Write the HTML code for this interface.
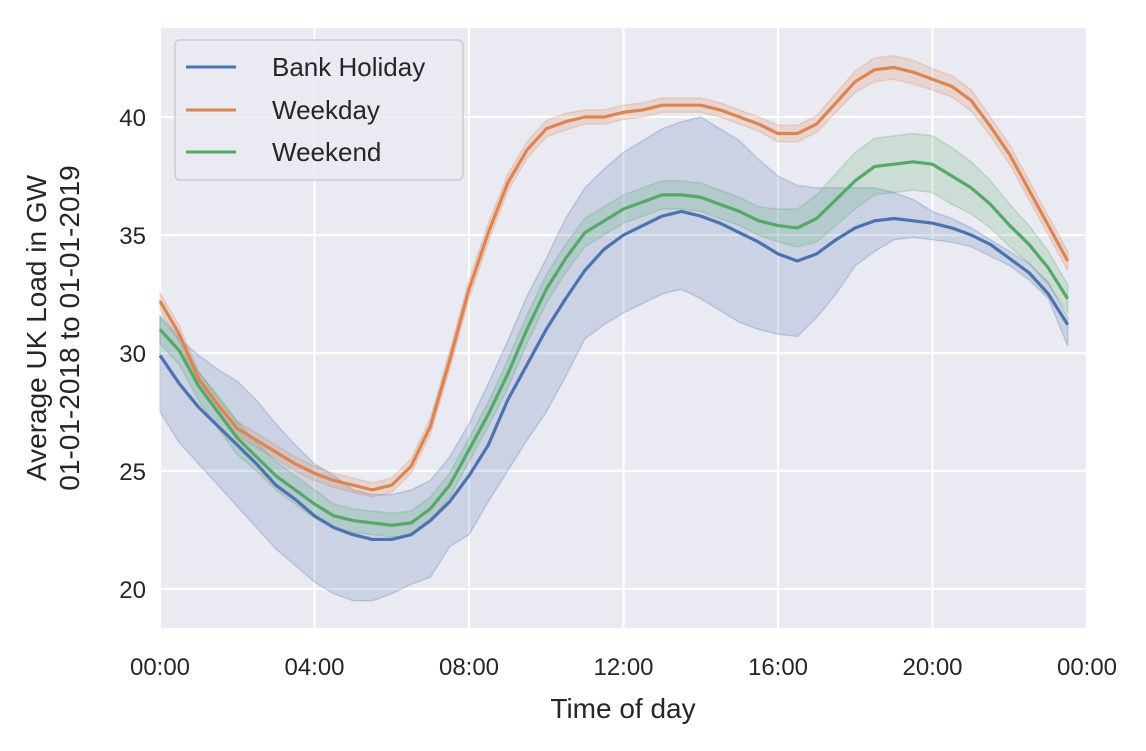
<!DOCTYPE html>
<html><head><meta charset="utf-8"><style>
body{margin:0;background:#fff;}
svg text{font-family:"Liberation Sans","DejaVu Sans",sans-serif;fill:#262626;}
</style></head><body>
<svg width="1146" height="746" xmlns="http://www.w3.org/2000/svg" id="chart">
<rect x="160" y="28" width="927" height="600" fill="#eaeaf2"/>
<g id="grid"></g>
<g id="bands"></g>
<g id="lines"></g>
<g id="ticks"></g>
<text x="623" y="718" font-size="28" text-anchor="middle">Time of day</text>
<g transform="translate(46,328) rotate(-90)">
<text x="0" y="0" font-size="28" text-anchor="middle">Average UK Load in GW</text>
<text x="0" y="33" font-size="28" text-anchor="middle">01-01-2018 to 01-01-2019</text>
</g>
<g>
<rect x="175" y="40" width="288" height="140" rx="5" fill="#eaeaf2" fill-opacity="0.8" stroke="#cccccc" stroke-width="1.5"/>
<line x1="186" y1="67" x2="236" y2="67" stroke="#4c72b0" stroke-width="3"/>
<text x="272" y="76" font-size="26">Bank Holiday</text>
<line x1="186" y1="110" x2="236" y2="110" stroke="#dd8452" stroke-width="3"/>
<text x="272" y="119" font-size="26">Weekday</text>
<line x1="186" y1="152" x2="236" y2="152" stroke="#55a868" stroke-width="3"/>
<text x="272" y="161" font-size="26">Weekend</text>
</g>
</svg>
<script>
const hours = [0,0.5,1,1.5,2,2.5,3,3.5,4,4.5,5,5.5,6,6.5,7,7.5,8,8.5,9,9.5,10,10.5,11,11.5,12,12.5,13,13.5,14,14.5,15,15.5,16,16.5,17,17.5,18,18.5,19,19.5,20,20.5,21,21.5,22,22.5,23,23.5];
const weekday = [32.2,30.8,28.9,27.8,26.8,26.3,25.8,25.3,24.9,24.6,24.4,24.2,24.4,25.2,26.9,29.7,32.7,35.1,37.2,38.6,39.5,39.8,40.0,40.0,40.2,40.3,40.5,40.5,40.5,40.3,40.0,39.7,39.3,39.3,39.7,40.6,41.5,42.0,42.1,41.9,41.6,41.3,40.7,39.6,38.4,36.9,35.4,33.9];
const weekdayCi = [0.35,0.35,0.3,0.3,0.3,0.3,0.3,0.3,0.3,0.3,0.3,0.3,0.3,0.3,0.35,0.4,0.4,0.4,0.35,0.35,0.35,0.35,0.3,0.3,0.3,0.3,0.3,0.3,0.3,0.3,0.3,0.3,0.35,0.35,0.35,0.4,0.45,0.5,0.5,0.5,0.45,0.45,0.45,0.4,0.4,0.4,0.4,0.4];
const weekend = [31.0,30.1,28.6,27.5,26.4,25.6,24.8,24.2,23.6,23.1,22.9,22.8,22.7,22.8,23.4,24.4,25.9,27.4,29.1,31.0,32.7,34.0,35.1,35.6,36.1,36.4,36.7,36.7,36.6,36.3,36.0,35.6,35.4,35.3,35.7,36.5,37.3,37.9,38.0,38.1,38.0,37.5,37.0,36.3,35.4,34.6,33.6,32.3];
const weekendCi = [0.6,0.6,0.6,0.7,0.7,0.6,0.6,0.6,0.6,0.5,0.5,0.5,0.5,0.5,0.5,0.5,0.5,0.5,0.6,0.6,0.6,0.6,0.6,0.6,0.6,0.6,0.6,0.6,0.6,0.6,0.6,0.6,0.7,0.8,1.0,1.1,1.2,1.2,1.2,1.2,1.2,1.2,1.1,1.0,0.9,0.8,0.7,0.6];
const bank = [29.9,28.7,27.7,26.9,26.1,25.3,24.4,23.8,23.1,22.6,22.3,22.1,22.1,22.3,22.9,23.7,24.8,26.1,28.0,29.5,31.0,32.3,33.5,34.4,35.0,35.4,35.8,36.0,35.8,35.5,35.1,34.7,34.2,33.9,34.2,34.8,35.3,35.6,35.7,35.6,35.5,35.3,35.0,34.6,34.0,33.4,32.5,31.2];
const bankUpper = [31.5,30.6,29.9,29.3,28.8,28.0,27.0,26.1,25.3,24.8,24.2,24.0,24.0,24.2,24.6,25.6,27.0,28.7,30.5,32.4,34.0,35.7,37.0,37.8,38.5,39.0,39.5,39.8,40.0,39.5,39.0,38.2,37.5,37.1,37.0,37.0,37.0,37.0,36.8,36.5,36.0,35.7,35.3,34.8,34.3,33.8,33.0,31.5];
const bankLower = [27.5,26.2,25.3,24.4,23.5,22.6,21.7,21.0,20.3,19.8,19.5,19.5,19.8,20.2,20.5,21.8,22.3,23.7,25.0,26.3,27.5,29.0,30.6,31.2,31.7,32.1,32.5,32.7,32.3,31.8,31.3,31.0,30.8,30.7,31.5,32.5,33.7,34.3,34.8,34.9,34.8,34.7,34.5,34.1,33.7,33.1,32.3,30.3];
const yTicks = [20,25,30,35,40];
const xTickHours = [0,4,8,12,16,20,24];
const xTickLabels = ["00:00","04:00","08:00","12:00","16:00","20:00","00:00"];

const NS="http://www.w3.org/2000/svg";
const X0=160,X1=1087;
function xs(h){return X0+h*(X1-X0)/24;}
function ys(v){return 589-(v-20)*23.6;}
function mk(tag,attrs,parent){const e=document.createElementNS(NS,tag);for(const k in attrs)e.setAttribute(k,attrs[k]);parent.appendChild(e);return e;}
const grid=document.getElementById('grid'),ticks=document.getElementById('ticks');
yTicks.forEach(v=>{
  const l=mk('line',{x1:X0,x2:X1,y1:ys(v),y2:ys(v),stroke:'#fff','stroke-width':2.2},grid);
  
  
  const t=mk('text',{x:146,y:ys(v)+9,'font-size':24,'text-anchor':'end'},ticks);
  t.textContent=v;
  
  
});
xTickHours.forEach((h,i)=>{
  const l=mk('line',{x1:xs(h),x2:xs(h),y1:28,y2:628,stroke:'#fff','stroke-width':2.2},grid);
  
  
  const t=mk('text',{x:xs(h),y:675,'font-size':24,'text-anchor':'middle'},ticks);
  t.textContent=xTickLabels[i];
  
  
});
function band(lo,hi,color,name){
  let d='M'+hours.map((h,i)=>xs(h)+','+ys(hi[i])).join('L');
  for(let i=hours.length-1;i>=0;i--)d+='L'+xs(hours[i])+','+ys(lo[i]);
  const p=mk('path',{d:d+'Z',fill:color,'fill-opacity':0.2,stroke:color,'stroke-opacity':0.25,'stroke-width':1.5},document.getElementById('bands'));
  
  
}
function line(vals,color,name){
  const p=mk('path',{d:'M'+hours.map((h,i)=>xs(h)+','+ys(vals[i])).join('L'),fill:'none',stroke:color,'stroke-width':3.2,'stroke-linejoin':'round'},document.getElementById('lines'));
  
  
}
band(bankLower,bankUpper,'#4c72b0','bank-holiday-band');
band(weekday.map((v,i)=>v-weekdayCi[i]),weekday.map((v,i)=>v+weekdayCi[i]),'#dd8452','weekday-band');
band(weekend.map((v,i)=>v-weekendCi[i]),weekend.map((v,i)=>v+weekendCi[i]),'#55a868','weekend-band');
line(bank,'#4c72b0','bank-holiday-line');
line(weekday,'#dd8452','weekday-line');
line(weekend,'#55a868','weekend-line');
</script>
</body></html>
